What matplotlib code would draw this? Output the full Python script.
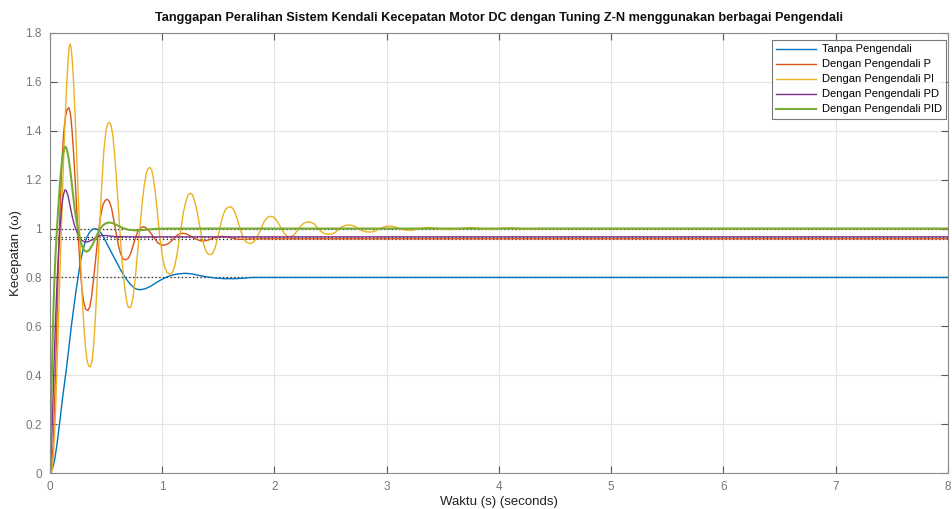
import matplotlib
matplotlib.use("Agg")
import matplotlib.pyplot as plt

plt.rcParams['font.family'] = ['Liberation Sans', 'DejaVu Sans']

# ---- data (time s, speed) ----
t_tanpa = [0, 0.02, 0.04, 0.06, 0.075, 0.09, 0.11, 0.13, 0.15, 0.17, 0.19, 0.21, 0.23, 0.25, 0.27,
           0.29, 0.31, 0.33, 0.35, 0.375, 0.4, 0.425, 0.45, 0.48, 0.51, 0.55, 0.59, 0.63, 0.67, 0.71,
           0.75, 0.78, 0.81, 0.85, 0.9, 0.95, 1.0, 1.05, 1.1, 1.15, 1.21, 1.27, 1.33, 1.4, 1.47,
           1.55, 1.65, 1.73, 1.8, 8.0]
v_tanpa = [0, 0.015, 0.05, 0.11, 0.165, 0.22, 0.3, 0.37, 0.44, 0.52, 0.6, 0.67, 0.74, 0.8, 0.86,
           0.905, 0.94, 0.965, 0.983, 0.996, 1.0, 0.996, 0.985, 0.963, 0.935, 0.9, 0.865, 0.83, 0.8, 0.775,
           0.757, 0.751, 0.75, 0.754, 0.765, 0.78, 0.793, 0.804, 0.811, 0.815, 0.817, 0.814, 0.808, 0.802, 0.798,
           0.795, 0.795, 0.797, 0.8, 0.8]

t_p = [0, 0.015, 0.03, 0.045, 0.06, 0.075, 0.09, 0.105, 0.12, 0.135, 0.15, 0.168, 0.182, 0.195, 0.21,
       0.225, 0.24, 0.255, 0.27, 0.285, 0.3, 0.318, 0.338, 0.355, 0.37, 0.39, 0.41, 0.43, 0.45, 0.47,
       0.49, 0.51, 0.53, 0.55, 0.57, 0.59, 0.61, 0.63, 0.65, 0.675, 0.7, 0.72, 0.74, 0.76, 0.78,
       0.8, 0.825, 0.846, 0.87, 0.9, 0.93, 0.96, 0.99, 1.017, 1.05, 1.08, 1.11, 1.14, 1.18, 1.22,
       1.26, 1.3, 1.34, 1.37, 1.41, 1.45, 1.49, 1.535, 1.58, 1.63, 1.68, 1.73, 1.8, 8.0]
v_p = [0, 0.02, 0.13, 0.35, 0.6, 0.86, 1.08, 1.26, 1.38, 1.45, 1.485, 1.495, 1.47, 1.41, 1.31,
       1.19, 1.06, 0.94, 0.83, 0.75, 0.7, 0.67, 0.665, 0.68, 0.72, 0.8, 0.89, 0.98, 1.05, 1.095,
       1.115, 1.12, 1.11, 1.08, 1.03, 0.98, 0.93, 0.895, 0.876, 0.872, 0.88, 0.9, 0.93, 0.96, 0.985,
       1.0, 1.007, 1.006, 0.997, 0.98, 0.96, 0.942, 0.933, 0.932, 0.937, 0.948, 0.963, 0.975, 0.981, 0.977,
       0.967, 0.957, 0.95, 0.949, 0.953, 0.96, 0.966, 0.968, 0.965, 0.96, 0.956, 0.956, 0.958, 0.958]

t_pi = [0, 0.015, 0.03, 0.045, 0.06, 0.075, 0.09, 0.105, 0.12, 0.135, 0.15, 0.163, 0.172, 0.18, 0.188,
        0.198, 0.21, 0.225, 0.24, 0.255, 0.27, 0.285, 0.3, 0.315, 0.33, 0.345, 0.36, 0.375, 0.39, 0.405,
        0.42, 0.44, 0.46, 0.48, 0.5, 0.515, 0.531, 0.545, 0.56, 0.58, 0.6, 0.62, 0.64, 0.66, 0.68,
        0.695, 0.71, 0.725, 0.74, 0.76, 0.78, 0.8, 0.82, 0.84, 0.86, 0.875, 0.89, 0.905, 0.92, 0.94,
        0.96, 0.98, 1.0, 1.02, 1.04, 1.06, 1.076, 1.09, 1.11, 1.13, 1.15, 1.17, 1.19, 1.21, 1.23,
        1.252, 1.27, 1.29, 1.31, 1.33, 1.35, 1.37, 1.39, 1.41, 1.43, 1.45, 1.47, 1.49, 1.51, 1.53,
        1.55, 1.57, 1.595, 1.616, 1.64, 1.66, 1.68, 1.7, 1.72, 1.745, 1.77, 1.795, 1.82, 1.85, 1.88,
        1.91, 1.94, 1.97, 2.0, 2.03, 2.06, 2.09, 2.115, 2.14, 2.17, 2.2, 2.23, 2.26, 2.29, 2.32,
        2.35, 2.38, 2.41, 2.44, 2.47, 2.505, 2.54, 2.57, 2.6, 2.64, 2.687, 2.72, 2.76, 2.8, 2.83,
        2.864, 2.9, 2.94, 2.98, 3.01, 3.04, 3.08, 3.12, 3.16, 3.218, 3.26, 3.3, 3.35, 3.395, 3.44,
        3.5, 3.57, 3.62, 3.68, 3.75, 3.8, 3.86, 3.93, 3.98, 4.04, 4.1, 4.16, 4.22, 4.28, 4.36, 8.0]
v_pi = [0, 0.0, 0.07, 0.2, 0.4, 0.62, 0.85, 1.07, 1.27, 1.45, 1.6, 1.7, 1.745, 1.755, 1.74,
        1.69, 1.6, 1.45, 1.27, 1.08, 0.9, 0.74, 0.61, 0.52, 0.46, 0.437, 0.435, 0.46, 0.53, 0.64,
        0.78, 0.98, 1.17, 1.32, 1.405, 1.43, 1.434, 1.42, 1.38, 1.28, 1.15, 1.01, 0.88, 0.78, 0.71,
        0.68, 0.675, 0.685, 0.72, 0.8, 0.9, 1.0, 1.1, 1.18, 1.23, 1.245, 1.25, 1.24, 1.21, 1.14,
        1.05, 0.96, 0.89, 0.845, 0.822, 0.815, 0.815, 0.82, 0.845, 0.89, 0.95, 1.01, 1.07, 1.11, 1.138,
        1.145, 1.138, 1.11, 1.07, 1.02, 0.97, 0.935, 0.907, 0.895, 0.893, 0.9, 0.92, 0.955, 0.995, 1.035,
        1.065, 1.082, 1.088, 1.088, 1.075, 1.05, 1.02, 0.99, 0.965, 0.945, 0.94, 0.94, 0.948, 0.97, 1.0,
        1.03, 1.047, 1.05, 1.045, 1.025, 1.0, 0.978, 0.968, 0.966, 0.972, 0.99, 1.008, 1.022, 1.027, 1.027,
        1.02, 1.005, 0.99, 0.98, 0.977, 0.977, 0.984, 0.996, 1.007, 1.014, 1.014, 1.008, 0.996, 0.988, 0.986,
        0.986, 0.991, 1.0, 1.007, 1.01, 1.01, 1.006, 0.998, 0.994, 0.993, 0.996, 1.0, 1.004, 1.004, 1.001,
        0.997, 0.996, 0.998, 1.002, 1.004, 1.002, 0.998, 0.996, 0.998, 1.002, 1.003, 1.001, 0.998, 0.998, 1.0, 1.0]

t_pd = [0, 0.01, 0.02, 0.03, 0.04, 0.05, 0.06, 0.07, 0.08, 0.09, 0.1, 0.11, 0.12, 0.133, 0.145,
        0.16, 0.18, 0.2, 0.22, 0.25, 0.28, 0.31, 0.34, 0.38, 0.42, 0.46, 0.5, 0.58, 0.7, 8.0]
v_pd = [0, 0.08, 0.2, 0.35, 0.5, 0.63, 0.75, 0.85, 0.94, 1.01, 1.07, 1.11, 1.14, 1.158, 1.155,
        1.135, 1.09, 1.045, 1.01, 0.975, 0.953, 0.945, 0.946, 0.955, 0.967, 0.972, 0.971, 0.967, 0.966, 0.966]

t_pid = [0, 0.005, 0.01, 0.02, 0.03, 0.04, 0.05, 0.065, 0.08, 0.095, 0.11, 0.125, 0.138, 0.15, 0.165,
         0.18, 0.2, 0.22, 0.24, 0.26, 0.28, 0.3, 0.325, 0.35, 0.38, 0.41, 0.44, 0.47, 0.5, 0.53,
         0.56, 0.6, 0.65, 0.7, 0.78, 0.85, 0.95, 1.05, 8.0]
v_pid = [0, 0.15, 0.27, 0.48, 0.66, 0.8, 0.9, 1.02, 1.13, 1.22, 1.29, 1.325, 1.335, 1.325, 1.29,
         1.24, 1.16, 1.08, 1.02, 0.97, 0.935, 0.913, 0.905, 0.912, 0.935, 0.965, 0.995, 1.013, 1.022, 1.025,
         1.022, 1.013, 1.002, 0.995, 0.992, 0.995, 0.999, 1.0, 1.0]

steady_values = [1.0, 0.966, 0.958, 0.8]

labels = ['Tanpa Pengendali', 'Dengan Pengendali P', 'Dengan Pengendali PI',
          'Dengan Pengendali PD', 'Dengan Pengendali PID']
colors = ['#0072BD', '#D95319', '#EDB120', '#7E2F8E', '#77AC30']

x_ticks = [0, 1, 2, 3, 4, 5, 6, 7, 8]
y_ticks = [0, 0.2, 0.4, 0.6, 0.8, 1.0, 1.2, 1.4, 1.6, 1.8]
y_ticklabels = ['0', '0.2', '0.4', '0.6', '0.8', '1', '1.2', '1.4', '1.6', '1.8']

# ---- figure ----
W, H = 953, 509
ax_l, ax_r, ax_b, ax_t = 50, 948, 36, 476   # pixels, y measured from bottom
fig = plt.figure(figsize=(W/100, H/100), dpi=100)
ax = fig.add_axes([ax_l/W, ax_b/H, (ax_r-ax_l)/W, (ax_t-ax_b)/H])

for sv in steady_values:
    ax.axhline(sv, color='#222222', lw=0.9, ls=(0, (1, 2)), zorder=1.5)

series = [(t_tanpa, v_tanpa), (t_p, v_p), (t_pi, v_pi), (t_pd, v_pd), (t_pid, v_pid)]
widths = [1.0, 1.0, 1.0, 1.0, 1.5]
for (t, v), lab, c, w in zip(series, labels, colors, widths):
    ax.plot(t, v, color=c, lw=w, label=lab, zorder=2, solid_joinstyle='round')

ax.set_xlim(0, 8)
ax.set_ylim(0, 1.8)
ax.set_xticks(x_ticks)
ax.set_yticks(y_ticks)
ax.set_yticklabels(y_ticklabels)
ax.grid(True, color='#e3e3e3', lw=0.8, zorder=0)
ax.set_axisbelow(True)
ax.tick_params(direction='in', length=5, width=0.8, colors='#555555', labelsize=8.5,
               top=True, right=True, pad=6)
ax.tick_params(axis='x', labelcolor='#777777')
ax.tick_params(axis='y', labelcolor='#777777')
for s in ax.spines.values():
    s.set_color('#8a8a8a')
    s.set_linewidth(0.8)

ax.set_title('Tanggapan Peralihan Sistem Kendali Kecepatan Motor DC dengan Tuning Z-N menggunakan berbagai Pengendali',
             fontsize=9.2, fontweight='bold', color='#111111', pad=9)
ax.set_xlabel('Waktu (s) (seconds)', fontsize=9.5, color='#222222', labelpad=2)
ax.set_ylabel('Kecepatan (ω)', fontsize=9.5, color='#222222', labelpad=2)

leg = ax.legend(loc='upper right',
                bbox_to_anchor=((946 - ax_l)/(ax_r - ax_l), 1 - 7/(ax_t - ax_b)),
                fontsize=8, frameon=True, fancybox=False, handlelength=3.6,
                borderpad=0.4, labelspacing=0.45, handletextpad=0.5, borderaxespad=0)
leg.get_frame().set_edgecolor('#555555')
leg.get_frame().set_linewidth(0.8)

fig.savefig('out.png', dpi=100)
